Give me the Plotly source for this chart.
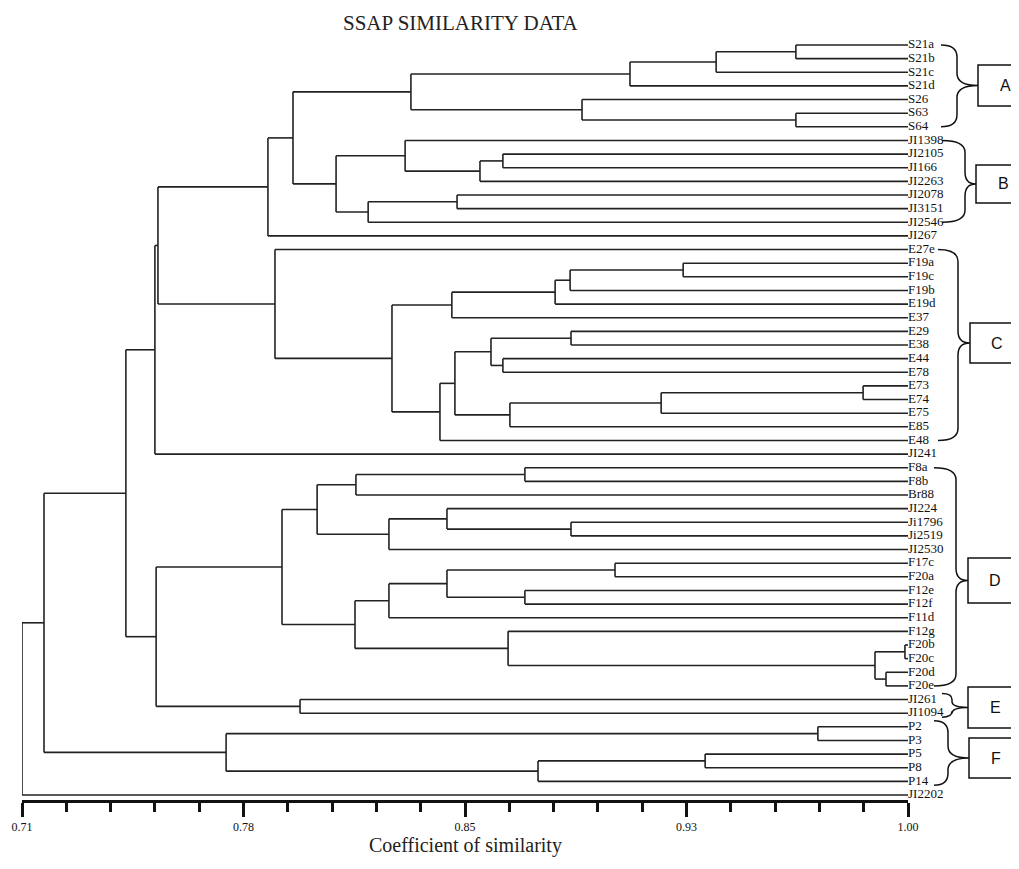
import plotly.graph_objects as go

# ---------------- data ----------------
leaves = ["S21a", "S21b", "S21c", "S21d", "S26", "S63", "S64",
          "JI1398", "JI2105", "JI166", "JI2263", "JI2078", "JI3151", "JI2546", "JI267",
          "E27e", "F19a", "F19c", "F19b", "E19d", "E37", "E29", "E38", "E44", "E78",
          "E73", "E74", "E75", "E85", "E48", "JI241",
          "F8a", "F8b", "Br88", "JI224", "Ji1796", "Ji2519", "JI2530", "F17c", "F20a",
          "F12e", "F12f", "F11d", "F12g", "F20b", "F20c", "F20d", "F20e",
          "JI261", "JI1094", "P2", "P3", "P5", "P8", "P14", "JI2202"]

merge_names = ["a1", "a2", "a3", "a4", "a5", "A",
               "b1", "b2", "b3", "b4", "b5", "B", "AB", "ABJ",
               "c1", "c2", "c3", "c4", "c5", "c6", "c7", "c8", "c9", "c10", "c11", "c12", "c13", "C",
               "ABC", "ABCJ",
               "d1", "d2", "d3", "d4", "d5", "d6", "d7", "d8", "d9", "d10", "d11", "d12", "d13", "d14", "d15", "D",
               "E", "DE", "U",
               "f1", "f2", "f3", "F", "UF", "root"]
merge_left = ["S21a", "a1", "a2", "S63", "S26", "a3",
              "JI2105", "b1", "JI1398", "JI2078", "b4", "b3", "A", "AB",
              "F19a", "c1", "c2", "c3", "E29", "E44", "c5", "E73", "c8", "c9", "c7", "c11", "c4", "E27e",
              "ABJ", "ABC",
              "F8a", "d1", "Ji1796", "JI224", "d4", "d2", "F17c", "F12e", "d7", "d9", "F20b", "F20d", "d11", "F12g", "d10", "d6",
              "JI261", "D", "ABCJ",
              "P2", "P5", "f2", "f1", "U", "UF"]
merge_right = ["S21b", "S21c", "S21d", "S64", "a4", "a5",
               "JI166", "JI2263", "b2", "JI3151", "JI2546", "b5", "B", "JI267",
               "F19c", "F19b", "E19d", "E37", "E38", "E78", "c6", "E74", "E75", "E85", "c10", "E48", "c12", "c13",
               "C", "JI241",
               "F8b", "Br88", "Ji2519", "d3", "JI2530", "d5", "F20a", "F12f", "d8", "F11d", "F20c", "F20e", "d12", "d13", "d14", "d15",
               "JI1094", "E", "DE",
               "P3", "P8", "P14", "f3", "F", "JI2202"]
merge_sim = [0.9633, 0.9372, 0.9090, 0.9633, 0.8933, 0.8373,
             0.8674, 0.8599, 0.8354, 0.8524, 0.8233, 0.8128, 0.7987, 0.7905,
             0.9264, 0.8894, 0.8845, 0.8507, 0.8897, 0.8674, 0.8635, 0.9853, 0.9192, 0.8697, 0.8517, 0.8468, 0.8311, 0.7928,
             0.7545, 0.7535,
             0.8746, 0.8193, 0.8897, 0.8491, 0.8301, 0.8066, 0.9041, 0.8746, 0.8491, 0.8301, 0.9990, 0.9928, 0.9892, 0.8691, 0.8190, 0.7951,
             0.8010, 0.7539, 0.7440,
             0.9705, 0.9336, 0.8789, 0.7768, 0.7172, 0.7100]

tick_vals = [0.71, 0.7825, 0.855, 0.9275, 1.00]
tick_text = ["0.71", "0.78", "0.85", "0.93", "1.00"]

group_letters = ["A", "B", "C", "D", "E", "F"]
group_first = ["S21a", "JI1398", "E27e", "F8a", "JI261", "P2"]
group_last = ["S64", "JI2546", "E48", "F20e", "JI1094", "P14"]

# ---------------- dendrogram geometry ----------------
pos_y = {name: i for i, name in enumerate(leaves)}
pos_x = {name: 1.0 for name in leaves}
xs, ys = [], []
for name, l, r, s in zip(merge_names, merge_left, merge_right, merge_sim):
    for c in (l, r):
        xs += [pos_x[c], s, None]
        ys += [pos_y[c], pos_y[c], None]
    xs += [s, s, None]
    ys += [pos_y[l], pos_y[r], None]
    pos_x[name] = s
    pos_y[name] = (pos_y[l] + pos_y[r]) / 2

# page body has an 8px margin; compensate so the plot sits where the reference does
OFF = 8
W, H = 1019 - OFF, 869 - 2 * OFF
L, R, T, B = 22 - OFF, 111, 30 - OFF, 69 - OFF
Y_RANGE = [55.367, -1.1]

fig = go.Figure()
fig.add_trace(go.Scatter(x=xs, y=ys, mode="lines",
                         line=dict(color="#222222", width=1.6),
                         hoverinfo="skip", showlegend=False))
fig.add_trace(go.Scatter(x=[1.0] * len(leaves), y=list(range(len(leaves))),
                         mode="text", text=leaves, textposition="middle right",
                         textfont=dict(family="Liberation Serif", size=13, color="#111111"),
                         cliponaxis=False, hoverinfo="skip", showlegend=False))

# page pixel -> paper helpers for the decorations
pw, ph = W - L - R, H - T - B
def px(x):
    return (x - OFF - L) / pw
def py(y):
    return (H - B - (y - OFF)) / ph
def leaf_px(name):
    idx = pos_y[name]
    return OFF + T + (idx - Y_RANGE[1]) / (Y_RANGE[0] - Y_RANGE[1]) * ph

shapes = []
annotations = []
brace_x0 = [941, 942, 938, 934, 942, 934]
brace_xs = [957, 965, 958, 956, 952, 948]
brace_xt = [978, 976, 970, 968, 968, 969]
box_y0 = [65, 165, 323, 558, 687, 738]
box_y1 = [106, 203, 363, 603, 728, 778]
for k, letter in enumerate(group_letters):
    y0 = leaf_px(group_first[k]) + (0 if letter not in ("E", "F") else -6)
    y1 = leaf_px(group_last[k]) + (0 if letter not in ("E", "F") else 4)
    ym = (box_y0[k] + box_y1[k]) / 2
    x0, xsp, xt = brace_x0[k], brace_xs[k], brace_xt[k]
    r = min(12, (y1 - y0) / 4)
    pts = [
        f"M {px(x0)},{py(y0)}",
        f"Q {px(xsp)},{py(y0)} {px(xsp)},{py(y0 + r)}",
        f"L {px(xsp)},{py(ym - r)}",
        f"Q {px(xsp)},{py(ym)} {px(xt)},{py(ym)}",
        f"Q {px(xsp)},{py(ym)} {px(xsp)},{py(ym + r)}",
        f"L {px(xsp)},{py(y1 - r)}",
        f"Q {px(xsp)},{py(y1)} {px(x0)},{py(y1)}",
    ]
    shapes.append(dict(type="path", xref="paper", yref="paper", path=" ".join(pts),
                       line=dict(color="#111111", width=1.5)))
    shapes.append(dict(type="rect", xref="paper", yref="paper",
                       x0=px(xt), x1=px(1025), y0=py(box_y1[k]), y1=py(box_y0[k]),
                       line=dict(color="#111111", width=1.5), fillcolor="white"))
    annotations.append(dict(xref="paper", yref="paper", x=px(xt + 27), y=py(ym),
                            text=letter, showarrow=False, xanchor="center", yanchor="middle",
                            font=dict(family="Liberation Sans", size=16, color="#111111")))

annotations.append(dict(xref="paper", yref="paper", x=px(461), y=py(OFF + 1), text="SSAP SIMILARITY DATA",
                        showarrow=False, xanchor="center", yanchor="top",
                        font=dict(family="Liberation Serif", size=21, color="#222222")))
annotations.append(dict(xref="paper", yref="paper", x=px(465), y=py(846), text="Coefficient of similarity",
                        showarrow=False, xanchor="center", yanchor="middle",
                        font=dict(family="Liberation Serif", size=20, color="#222222")))

fig.update_layout(
    width=W, height=H, margin=dict(l=L, r=R, t=T, b=B, autoexpand=False),
    paper_bgcolor="white", plot_bgcolor="white",
    shapes=shapes, annotations=annotations, showlegend=False,
    xaxis=dict(range=[0.71, 1.00], showgrid=False, zeroline=False, automargin=False,
               showline=True, linecolor="#111111", linewidth=3,
               ticks="outside", ticklen=14, tickwidth=3, tickcolor="#111111",
               tickmode="array", tickvals=tick_vals, ticktext=tick_text,
               tickfont=dict(family="Liberation Serif", size=12, color="#111111"),
               minor=dict(ticks="outside", ticklen=9, tickwidth=3, tickcolor="#111111",
                          tick0=0.71, dtick=0.0145, showgrid=False)),
    yaxis=dict(range=Y_RANGE, visible=False, showgrid=False, zeroline=False, automargin=False),
)

fig.write_html("out.html")
